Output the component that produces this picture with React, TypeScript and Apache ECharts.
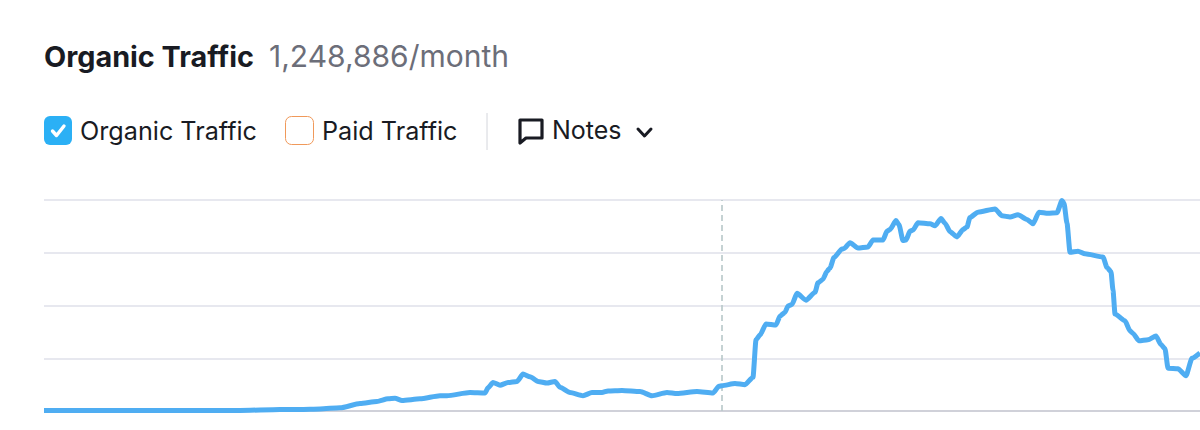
import React, { useEffect, useRef } from "react";
import * as echarts from "echarts";

const titleText = "Organic Traffic";
const metricText = "1,248,886/month";
const legendOrganic = "Organic Traffic";
const legendPaid = "Paid Traffic";
const notesText = "Notes";
const noteMarker = 678;

const steps = [
  0, 196, 236, 256, 276, 296, 316, 333, 344, 351, 358, 376, 396, 403, 426, 441, 444, 449, 456, 464, 473, 479, 486, 494,
  503, 511, 516, 526, 539, 548, 558, 564, 578, 596, 608, 623, 633, 653, 669, 675, 678, 691, 701, 709, 712, 716, 722,
  732, 736, 741, 744, 748, 753, 762, 771, 774, 779, 783, 786, 790, 798, 800, 806, 814, 824, 829, 839, 843, 846, 852,
  855, 859, 862, 866, 869, 874, 886, 891, 897, 901, 906, 913, 919, 923, 926, 934, 951, 958, 966, 974, 983, 989, 995,
  1004, 1013, 1018, 1020, 1023, 1026, 1034, 1041, 1059, 1063, 1067, 1069, 1071, 1081, 1086, 1089, 1095, 1104, 1112,
  1117, 1121, 1124, 1134, 1142, 1148, 1156,
];
const organic = [
  1, 1, 3, 3, 4, 6, 14, 18, 23, 24, 20, 23, 29, 29, 35, 34, 44, 54, 49, 54, 56, 70, 65, 56,
  53, 56, 45, 35, 29, 35, 35, 38, 39, 37, 29, 35, 33, 37, 34, 47, 48, 52, 50, 64, 135, 144, 165,
  163, 180, 187, 199, 202, 223, 210, 225, 243, 250, 265, 271, 291, 307, 308, 319, 309, 311, 324, 324, 341, 344, 361,
  353, 323, 324, 341, 343, 357, 355, 351, 365, 356, 340, 330, 344, 349, 367, 377, 383, 370, 368, 372, 363, 355, 377,
  375, 376, 399, 394, 356, 301, 303, 298, 292, 272, 264, 229, 184, 171, 152, 147, 133, 135, 142,
  126, 118, 81, 80, 67, 100, 110,
];

echarts.graphic.registerShape(
  "notesIcon",
  echarts.graphic.extendPath("M2 2 H24 V20 H8 L2 25 Z", {}),
);

export default function App() {
  const ref = useRef<HTMLDivElement>(null);
  useEffect(() => {
    document.body.style.margin = "0";
    const chart = echarts.init(ref.current!, null, { renderer: "svg" });
    const font = "Inter";
    chart.setOption({
      animation: false,
      backgroundColor: "#ffffff",
      grid: { left: 44, right: 0, top: 200, height: 211 },
      xAxis: {
        type: "value",
        min: 0,
        max: 1156,
        splitLine: { show: false },
        axisTick: { show: false },
        axisLabel: { show: false },
        axisLine: { show: false },
      },
      yAxis: {
        type: "value",
        min: 0,
        max: 400,
        interval: 100,
        axisLabel: { show: false },
        axisTick: { show: false },
        axisLine: { show: false },
        splitLine: { lineStyle: { color: "#dfe1ea", width: 1.6 } },
      },
      series: [
        {
          type: "line",
          data: steps.map((s, i) => [s, organic[i]]),
          showSymbol: false,
          symbol: "none",
          clip: false,
          smooth: 0.2,
          smoothMonotone: "x",
          z: 5,
          lineStyle: { color: "#4fadf2", width: 5, join: "round", cap: "butt" },
          markLine: {
            silent: true,
            symbol: "none",
            label: { show: false },
            z: 2,
            lineStyle: { color: "#b7c7c9", type: [6, 4], width: 1.6 },
            data: [{ xAxis: noteMarker }],
          },
        },
      ],
      graphic: [
        { type: "line", shape: { x1: 44, y1: 411, x2: 1200, y2: 411 }, z: 1, style: { stroke: "#c8cad2", lineWidth: 1.6 } },
        { type: "text", x: 44, y: 56, style: { text: titleText, font: `bold 28.8px ${font}`, fill: "#191b23", verticalAlign: "middle" } },
        { type: "text", x: 269, y: 56, style: { text: metricText, font: `400 30px ${font}`, fill: "#6c6e79", verticalAlign: "middle" } },
        { type: "rect", shape: { x: 44, y: 116, width: 28, height: 29, r: 6 }, style: { fill: "#2bb0f5" } },
        { type: "polyline", shape: { points: [[52.5, 131], [56.5, 135.5], [64, 126]] }, style: { stroke: "#ffffff", lineWidth: 3.4, fill: "none", lineCap: "round", lineJoin: "round" } },
        { type: "text", x: 80, y: 131, style: { text: legendOrganic, font: `400 25.2px ${font}`, fill: "#191b23", verticalAlign: "middle" } },
        { type: "rect", shape: { x: 285.5, y: 116.5, width: 28, height: 28, r: 6 }, style: { fill: "#ffffff", stroke: "#f0995a", lineWidth: 1 } },
        { type: "text", x: 322, y: 131, style: { text: legendPaid, font: `400 25.2px ${font}`, fill: "#191b23", verticalAlign: "middle" } },
        { type: "line", shape: { x1: 487, y1: 113, x2: 487, y2: 150 }, style: { stroke: "#d4d6dc", lineWidth: 1 } },
        { type: "notesIcon", x: 518, y: 118, style: { fill: "none", stroke: "#191b23", lineWidth: 3.2, lineJoin: "round" } },
        { type: "text", x: 552, y: 130, style: { text: notesText, font: `400 25px ${font}`, fill: "#191b23", verticalAlign: "middle" } },
        { type: "polyline", shape: { points: [[638, 129], [644.5, 136], [651, 129]] }, style: { stroke: "#191b23", lineWidth: 3, fill: "none", lineCap: "round", lineJoin: "round" } },
      ],
    });
    return () => chart.dispose();
  }, []);
  return <div ref={ref} style={{ position: "fixed", left: 0, top: 0, width: 1200, height: 430 }} />;
}
